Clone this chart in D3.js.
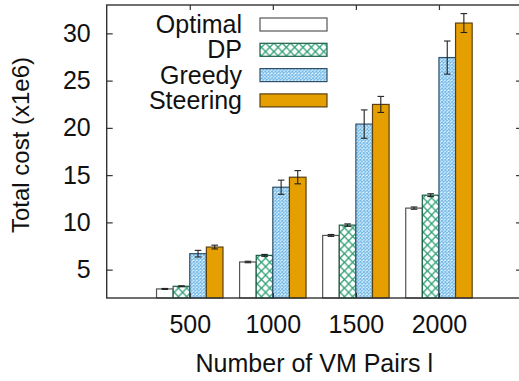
<!DOCTYPE html>
<html>
<head>
<meta charset="utf-8">
<script src="https://cdn.jsdelivr.net/npm/d3@7"></script>
<style>
  html, body { margin: 0; padding: 0; background: #fff; }
  svg { display: block; font-family: "Liberation Sans", Arial, sans-serif; }
</style>
</head>
<body>
<svg id="chart" width="519" height="381"></svg>
<script>
// Total cost per method for each number of VM pairs (values in 1e6)
const categories = ["500", "1000", "1500", "2000"];
const seriesNames = ["Optimal", "DP", "Greedy", "Steering"];
const optimal  = [2.96, 5.81, 8.62, 11.51];
const dp       = [3.24, 6.51, 9.71, 12.88];
const greedy   = [6.69, 13.72, 20.4, 27.44];
const steering = [7.39, 14.78, 22.48, 31.09];
// error bar half-widths
const optimalErr  = [0.05, 0.08, 0.1, 0.12];
const dpErr       = [0.05, 0.1, 0.13, 0.15];
const greedyErr   = [0.35, 0.75, 1.5, 1.75];
const steeringErr = [0.2, 0.7, 0.85, 1.0];
const yTicks = [5, 10, 15, 20, 25, 30];

const values = [optimal, dp, greedy, steering];
const errors = [optimalErr, dpErr, greedyErr, steeringErr];

const svg = d3.select("#chart");
const plotL = 106.7, plotR = 522, plotT = 5, plotB = 298;

const x = d3.scalePoint().domain(categories).range([plotL, plotR]).padding(1);
const barW = x.step() / 5;
const inner = d3.scaleBand().domain(seriesNames).range([-2 * barW, 2 * barW]);
const y = d3.scaleLinear().domain([2, 33]).range([plotB, plotT]);

// fill patterns
const defs = svg.append("defs");
const dpPat = defs.append("pattern").attr("id", "pat-dp")
  .attr("patternUnits", "userSpaceOnUse").attr("width", 8.3).attr("height", 8.6);
dpPat.append("rect").attr("width", 8.3).attr("height", 8.6).attr("fill", "#fff");
dpPat.append("path").attr("d", "M0,0 L8.3,8.6 M8.3,0 L0,8.6")
  .attr("stroke", "#2e9e74").attr("stroke-width", 1.3).attr("fill", "none");

const grPat = defs.append("pattern").attr("id", "pat-greedy")
  .attr("patternUnits", "userSpaceOnUse").attr("width", 3.4).attr("height", 3.4);
grPat.append("rect").attr("width", 3.4).attr("height", 3.4).attr("fill", "#fff");
grPat.append("path").attr("d", "M0,0 L3.4,3.4 M3.4,0 L0,3.4")
  .attr("stroke", "#6db8e8").attr("stroke-width", 1.1).attr("fill", "none");

const fills = ["#ffffff", "url(#pat-dp)", "url(#pat-greedy)", "#e69f00"];
const strokes = ["#555555", "#1c5e46", "#2f506b", "#5a4010"];

// bars
seriesNames.forEach((name, s) => {
  const g = svg.append("g");
  g.selectAll("rect").data(values[s]).join("rect")
    .attr("x", (d, i) => x(categories[i]) + inner(name))
    .attr("y", d => y(d))
    .attr("width", inner.bandwidth())
    .attr("height", d => y(2) - y(d))
    .attr("fill", fills[s])
    .attr("stroke", strokes[s])
    .attr("stroke-width", 1.2);
});

// error bars
seriesNames.forEach((name, s) => {
  const g = svg.append("g").attr("stroke", "#222").attr("stroke-width", 1.1);
  values[s].forEach((v, i) => {
    const cx = x(categories[i]) + inner(name) + inner.bandwidth() / 2;
    const e = errors[s][i];
    const y1 = y(v + e), y2 = y(v - e);
    g.append("line").attr("x1", cx).attr("x2", cx).attr("y1", y1).attr("y2", y2);
    g.append("line").attr("x1", cx - 3.3).attr("x2", cx + 3.3).attr("y1", y1).attr("y2", y1);
    g.append("line").attr("x1", cx - 3.3).attr("x2", cx + 3.3).attr("y1", y2).attr("y2", y2);
  });
});

// axes
const yAxis = svg.append("g").attr("transform", `translate(${plotL},0)`)
  .call(d3.axisLeft(y).tickValues(yTicks).tickSize(-6).tickPadding(16).tickSizeOuter(0));
const yAxisR = svg.append("g").attr("transform", `translate(${plotR},0)`)
  .call(d3.axisRight(y).tickValues(yTicks).tickSize(-6).tickFormat("").tickSizeOuter(0));
const xAxis = svg.append("g").attr("transform", `translate(0,${plotB})`)
  .call(d3.axisBottom(x).tickSize(-5).tickPadding(17).tickSizeOuter(0));
const xAxisT = svg.append("g").attr("transform", `translate(0,${plotT})`)
  .call(d3.axisTop(x).tickSize(-5).tickFormat("").tickSizeOuter(0));

[yAxis, yAxisR, xAxis, xAxisT].forEach(a => {
  a.select(".domain").remove();
  a.selectAll(".tick line").attr("stroke", "#333").attr("stroke-width", 1.2);
  a.selectAll("text").attr("fill", "#111").style("font-size", "25px")
    .style("font-family", "'Liberation Sans', Arial, sans-serif");
});

// frame
svg.append("rect").attr("x", plotL).attr("y", plotT)
  .attr("width", plotR - plotL).attr("height", plotB - plotT)
  .attr("fill", "none").attr("stroke", "#333").attr("stroke-width", 1.4);

// axis titles
svg.append("text").attr("x", (plotL + plotR) / 2).attr("y", 372)
  .attr("text-anchor", "middle").attr("fill", "#111").style("font-size", "25px")
  .text("Number of VM Pairs l");
svg.append("text").attr("transform", "translate(29,145) rotate(-90)")
  .attr("text-anchor", "middle").attr("fill", "#111").style("font-size", "24px")
  .text("Total cost (x1e6)");

// legend
const legY = [24.5, 49.8, 75.1, 100.4];
const legend = svg.append("g");
seriesNames.forEach((name, s) => {
  legend.append("text").attr("x", 242).attr("y", legY[s] + 8.5)
    .attr("text-anchor", "end").attr("fill", "#111").style("font-size", "25px")
    .text(name);
  legend.append("rect").attr("x", 260).attr("y", legY[s] - 6.5)
    .attr("width", 67).attr("height", 13)
    .attr("fill", fills[s]).attr("stroke", strokes[s]).attr("stroke-width", 1.2);
});
</script>
</body>
</html>
